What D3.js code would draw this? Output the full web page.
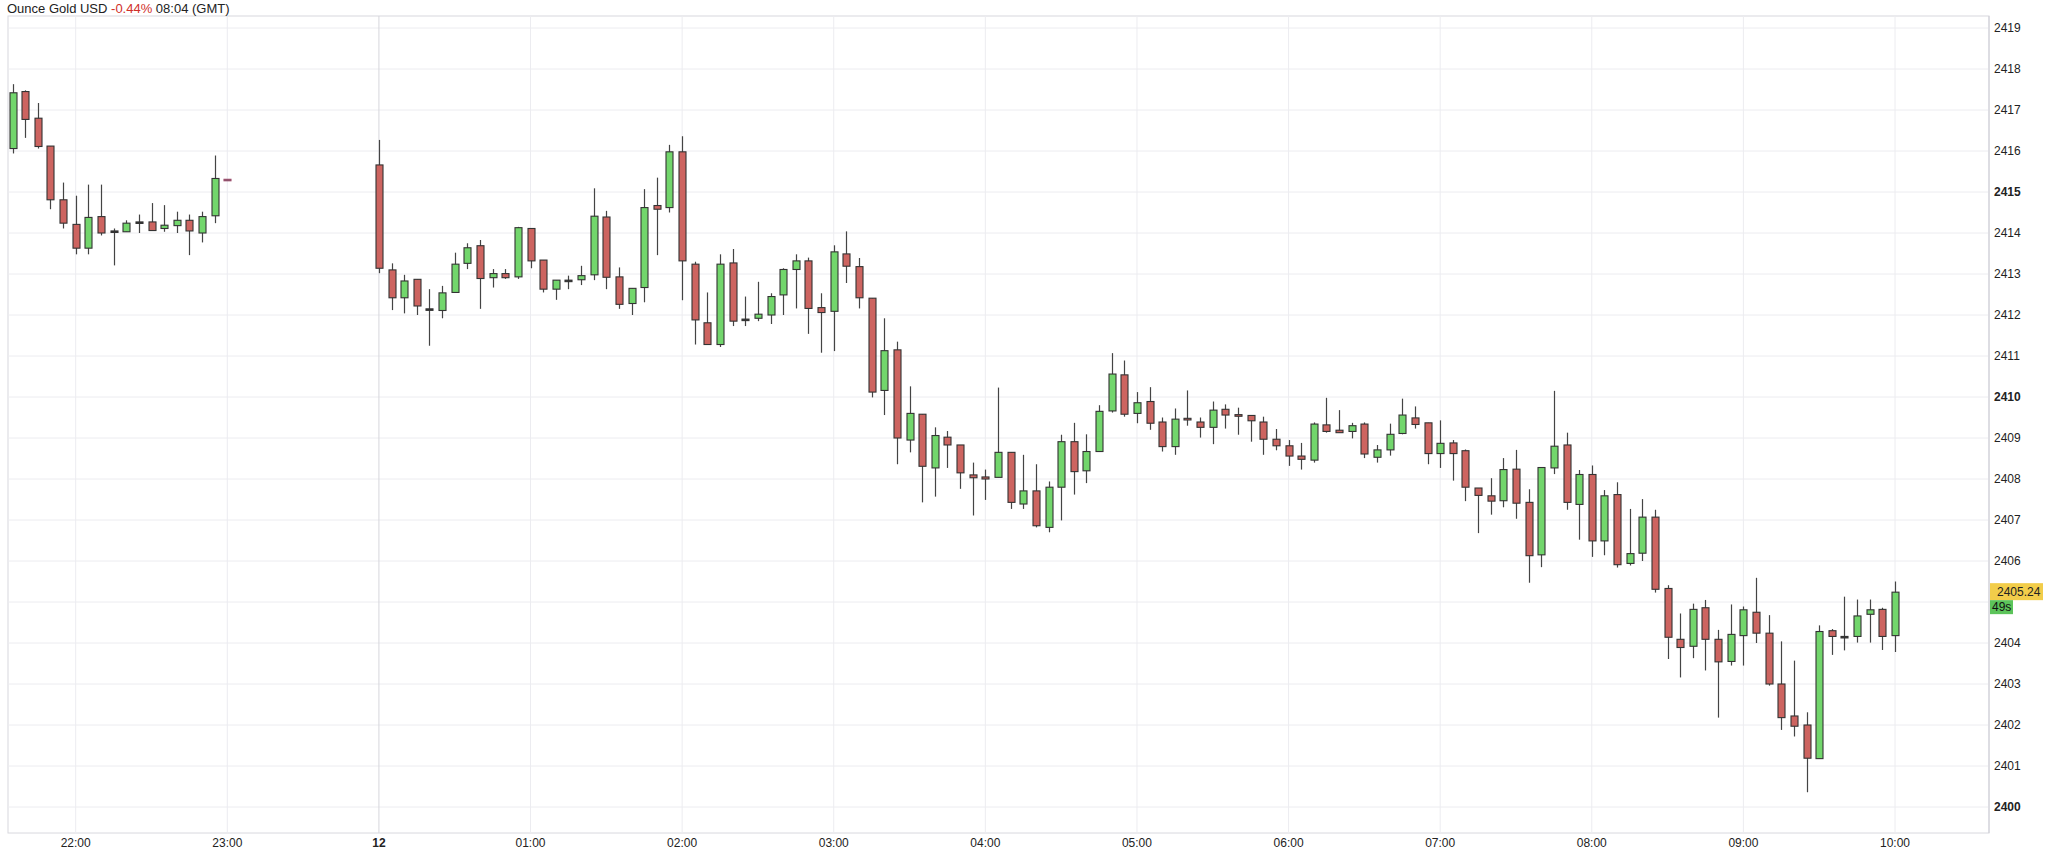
<!DOCTYPE html>
<html><head><meta charset="utf-8">
<script src="https://cdn.jsdelivr.net/npm/d3@7"></script>
<style>body{margin:0;background:#fff}svg{display:block;font-family:"Helvetica Neue",Arial,"Liberation Sans",sans-serif}</style>
</head><body><svg id="c" width="2048" height="850"></svg>
<script>
const times = ["21:35","21:40","21:45","21:50","21:55","22:00","22:05","22:10","22:15","22:20","22:25","22:30","22:35","22:40","22:45","22:50","22:55","23:00",
"00:00","00:05","00:10","00:15","00:20","00:25","00:30","00:35","00:40","00:45","00:50","00:55",
"01:00","01:05","01:10","01:15","01:20","01:25","01:30","01:35","01:40","01:45","01:50","01:55",
"02:00","02:05","02:10","02:15","02:20","02:25","02:30","02:35","02:40","02:45","02:50","02:55",
"03:00","03:05","03:10","03:15","03:20","03:25","03:30","03:35","03:40","03:45","03:50","03:55",
"04:00","04:05","04:10","04:15","04:20","04:25","04:30","04:35","04:40","04:45","04:50","04:55",
"05:00","05:05","05:10","05:15","05:20","05:25","05:30","05:35","05:40","05:45","05:50","05:55",
"06:00","06:05","06:10","06:15","06:20","06:25","06:30","06:35","06:40","06:45","06:50","06:55",
"07:00","07:05","07:10","07:15","07:20","07:25","07:30","07:35","07:40","07:45","07:50","07:55",
"08:00","08:05","08:10","08:15","08:20","08:25","08:30","08:35","08:40","08:45","08:50","08:55",
"09:00","09:05","09:10","09:15","09:20","09:25","09:30","09:35","09:40","09:45","09:50","09:55","10:00"];
const open = [2416.06,2417.45,2416.80,2416.12,2414.81,2414.21,2413.63,2414.40,2414.05,2414.03,2414.27,2414.27,2414.11,2414.18,2414.31,2414.00,2414.42,2415.31,
2415.66,2413.10,2412.42,2412.87,2412.15,2412.11,2412.55,2413.26,2413.69,2412.91,2413.01,2412.93,2414.11,2413.34,2412.63,2412.85,2412.86,2412.98,2414.39,2412.93,
2412.28,2412.67,2414.67,2414.62,2415.98,2413.24,2411.81,2411.28,2413.27,2411.90,2411.92,2412.00,2412.49,2413.11,2413.32,2412.18,2412.09,2413.49,2413.18,2412.41,
2410.16,2411.15,2408.95,2409.58,2408.27,2409.02,2408.83,2408.10,2408.05,2408.04,2408.65,2407.39,2407.71,2406.82,2407.80,2408.91,2408.20,2408.67,2409.66,2410.54,
2409.60,2409.89,2409.39,2408.79,2409.48,2409.39,2409.26,2409.70,2409.57,2409.55,2409.39,2408.97,2408.81,2408.56,2408.46,2409.32,2409.19,2409.16,2409.34,2408.53,
2408.71,2409.11,2409.49,2409.37,2408.62,2408.88,2408.69,2407.78,2407.59,2407.47,2408.24,2407.43,2406.15,2408.27,2408.83,2407.38,2408.11,2406.49,2407.62,2405.94,
2406.19,2407.07,2405.33,2404.09,2403.92,2404.86,2404.09,2403.55,2404.18,2404.75,2404.24,2403.00,2402.22,2402.00,2401.18,2404.30,2404.16,2404.16,2404.70,2404.82,2404.18];
const high = [2417.63,2417.48,2417.17,2416.12,2415.23,2414.91,2415.18,2415.18,2414.11,2414.31,2414.45,2414.73,2414.68,2414.52,2414.45,2414.52,2415.89,2415.31,
2416.27,2413.26,2412.98,2412.87,2412.63,2412.71,2413.52,2413.75,2413.83,2413.12,2413.12,2414.15,2414.11,2413.34,2412.85,2412.96,2413.20,2415.09,2414.54,2413.16,
2412.65,2415.07,2415.35,2416.15,2416.36,2413.30,2412.55,2413.48,2413.61,2412.45,2412.81,2412.53,2413.14,2413.48,2413.40,2412.53,2413.70,2414.04,2413.39,2412.41,
2411.92,2411.35,2410.26,2409.58,2409.26,2409.17,2408.83,2408.40,2408.23,2410.23,2408.65,2408.59,2408.36,2407.94,2409.08,2409.37,2409.09,2409.80,2411.07,2410.89,
2410.12,2410.24,2409.50,2409.72,2410.16,2409.50,2409.89,2409.82,2409.74,2409.55,2409.52,2409.22,2408.95,2408.88,2409.38,2409.98,2409.68,2409.37,2409.38,2408.83,
2409.35,2409.96,2409.77,2409.37,2409.43,2408.95,2408.72,2407.78,2408.02,2408.51,2408.71,2407.75,2408.28,2410.15,2409.13,2408.22,2408.33,2407.73,2407.92,2407.27,
2407.51,2407.25,2405.41,2404.72,2404.96,2405.05,2404.32,2404.94,2404.89,2405.59,2404.68,2404.04,2403.57,2402.31,2404.43,2404.34,2405.13,2405.06,2405.06,2404.86,2405.50];
const low = [2415.94,2416.32,2416.06,2414.58,2414.11,2413.48,2413.48,2413.94,2413.21,2414.03,2414.00,2414.06,2414.03,2414.00,2413.46,2413.77,2414.24,2415.31,
2413.02,2412.12,2412.04,2412.00,2411.25,2411.92,2412.55,2413.12,2412.15,2412.67,2412.88,2412.88,2413.14,2412.55,2412.37,2412.63,2412.73,2412.85,2412.63,2412.15,
2412.00,2412.31,2413.46,2414.50,2412.36,2411.28,2411.28,2411.22,2411.73,2411.73,2411.85,2411.78,2412.00,2412.16,2411.54,2411.08,2411.12,2412.78,2412.16,2409.99,
2409.56,2408.36,2408.65,2407.43,2407.57,2408.27,2407.76,2407.11,2407.49,2408.04,2407.27,2407.27,2406.82,2406.70,2406.99,2407.62,2407.90,2408.67,2409.62,2409.52,
2409.36,2409.20,2408.67,2408.59,2409.30,2409.01,2408.85,2409.23,2409.08,2408.91,2408.59,2408.70,2408.32,2408.23,2408.40,2409.13,2409.13,2408.99,2408.51,2408.40,
2408.57,2409.09,2409.23,2408.36,2408.27,2407.96,2407.46,2406.68,2407.13,2407.31,2407.03,2405.47,2405.85,2408.12,2407.25,2406.52,2406.10,2406.14,2405.84,2405.89,
2406.00,2405.23,2403.61,2403.16,2403.63,2403.33,2402.18,2403.45,2403.45,2404.00,2402.96,2401.88,2401.72,2400.36,2401.18,2403.71,2403.82,2404.01,2404.01,2403.83,2403.78];
const close = [2417.42,2416.77,2416.11,2414.81,2414.24,2413.63,2414.38,2414.00,2414.05,2414.24,2414.27,2414.06,2414.19,2414.31,2414.05,2414.40,2415.33,2415.31,
2413.14,2412.42,2412.83,2412.22,2412.15,2412.54,2413.24,2413.64,2412.89,2413.01,2412.91,2414.13,2413.32,2412.63,2412.85,2412.85,2412.96,2414.41,2412.92,2412.26,
2412.65,2414.62,2414.58,2415.98,2413.32,2411.88,2411.28,2413.24,2411.85,2411.90,2412.02,2412.45,2413.11,2413.32,2412.16,2412.06,2413.54,2413.19,2412.42,2410.12,
2411.13,2409.00,2409.60,2408.31,2409.06,2408.83,2408.15,2408.03,2408.00,2408.65,2407.43,2407.71,2406.86,2407.80,2408.91,2408.18,2408.67,2409.65,2410.56,2409.58,
2409.86,2409.36,2408.79,2409.46,2409.44,2409.26,2409.68,2409.56,2409.53,2409.42,2408.97,2408.81,2408.56,2408.48,2409.34,2409.16,2409.13,2409.30,2408.61,2408.71,
2409.09,2409.56,2409.33,2408.62,2408.87,2408.62,2407.80,2407.60,2407.46,2408.23,2407.41,2406.13,2408.28,2408.80,2407.43,2408.11,2406.49,2407.59,2405.91,2406.18,
2407.07,2405.31,2404.14,2403.89,2404.82,2404.09,2403.54,2404.21,2404.81,2404.24,2403.00,2402.18,2401.97,2401.19,2404.28,2404.16,2404.16,2404.66,2404.81,2404.16,2405.24];
const xTickLabels = ["22:00","23:00","12","01:00","02:00","03:00","04:00","05:00","06:00","07:00","08:00","09:00","10:00"];
const yTicks = [2400,2401,2402,2403,2404,2405,2406,2407,2408,2409,2410,2411,2412,2413,2414,2415,2416,2417,2418,2419];
const lastPrice = 2405.24;

const svg = d3.select("#c");
const L=8, R=1989, T=16, B=833;
const toMin = s => { const [h,m]=s.split(":").map(Number); return (h>=21?h-24:h)*60+m; };
const x = d3.scaleLinear().domain([-120,600]).range([75.7,1895]);
const y = d3.scaleLinear().domain([2400,2419]).range([807,28]);
const tickMin = xTickLabels.map(s => s==="12"?0:toMin(s));

svg.append("rect").attr("x",L).attr("y",T).attr("width",R-L).attr("height",B-T).attr("fill","#fff").attr("stroke","#d8d8de");
svg.append("g").selectAll("line").data(yTicks).join("line")
  .attr("x1",L).attr("x2",R).attr("y1",d=>y(d)).attr("y2",d=>y(d)).attr("stroke","#ececf0");
svg.append("g").selectAll("line").data(tickMin).join("line")
  .attr("x1",d=>x(d)).attr("x2",d=>x(d)).attr("y1",T).attr("y2",B)
  .attr("stroke",d=>d===0?"#d6d6dc":"#ececf0");
svg.append("line").attr("x1",R).attr("x2",R).attr("y1",T).attr("y2",B).attr("stroke","#cfcfd6");

// y labels (the 2405 label sits under the last-price tag, as in the reference)
svg.append("g").selectAll("text").data(yTicks.filter(d=>Math.abs(d-lastPrice)>0.5)).join("text")
  .attr("x",R+5).attr("y",d=>y(d)+4).attr("font-size",12).attr("fill","#222")
  .attr("font-weight",d=>d%5===0?"bold":"normal").text(d=>d);
svg.append("g").selectAll("text").data(xTickLabels).join("text")
  .attr("x",(d,i)=>x(tickMin[i])).attr("y",847).attr("text-anchor","middle").attr("font-size",12).attr("fill","#222")
  .attr("font-weight",d=>d==="12"?"bold":"normal").text(d=>d);

const data = times.map((t,i)=>({t:toMin(t),o:open[i],h:high[i],l:low[i],c:close[i]}));
const bw = 7;
const g = svg.append("g");
g.selectAll("line").data(data).join("line")
  .attr("x1",d=>Math.round(x(d.t))+0.5).attr("x2",d=>Math.round(x(d.t))+0.5)
  .attr("y1",d=>y(d.h)).attr("y2",d=>y(d.l)).attr("stroke","#444").attr("stroke-width",1.2);
g.selectAll("rect").data(data).join("rect")
  .attr("x",d=>Math.round(x(d.t))+0.5-bw/2).attr("width",bw)
  .attr("y",d=>y(Math.max(d.o,d.c))).attr("height",d=>Math.max(1.5,Math.abs(y(d.o)-y(d.c))))
  .attr("fill",d=>d.c>d.o?"#72d66c":d.c<d.o?"#cd6460":"#333")
  .attr("stroke",d=>d.c===d.o&&d.h===d.l?"#a05070":"#333").attr("stroke-width",1.1);

const tt = svg.append("text").attr("x",7).attr("y",13).attr("font-size",13).attr("fill","#222");
tt.append("tspan").text("Ounce Gold USD ");
tt.append("tspan").attr("fill","#d0302a").text("-0.44%");
tt.append("tspan").text(" 08:04 (GMT)");

svg.append("rect").attr("x",R+1).attr("y",y(lastPrice)-9).attr("width",53).attr("height",17).attr("fill","#f2cd4a");
svg.append("text").attr("x",R+8).attr("y",y(lastPrice)+4).attr("font-size",12).attr("fill","#222").text(lastPrice.toFixed(2));
svg.append("rect").attr("x",R+1).attr("y",y(lastPrice)+8).attr("width",23).attr("height",14).attr("fill","#5cc45a");
svg.append("text").attr("x",R+3).attr("y",y(lastPrice)+19).attr("font-size",12).attr("fill","#111").text("49s");
</script></body></html>
